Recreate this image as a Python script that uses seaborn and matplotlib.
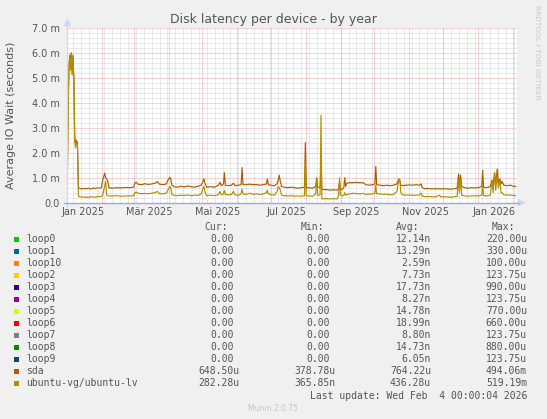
import numpy as np
import pandas as pd
import matplotlib
matplotlib.use("Agg")
import matplotlib.pyplot as plt
import seaborn as sns
from matplotlib.lines import Line2D
from matplotlib.patches import Polygon, Rectangle

W, H = 547, 419

# ---------------- data (days since 1 Jan 2025, values in milliseconds) -------------
day_offsets = [0, 0.8, 1.5, 2.2, 2.8, 3.5, 4.3, 5.0, 5.8, 6.6, 7.3, 8.0, 9.0, 9.9,
               11, 13, 15, 17, 19, 21, 23, 25, 27, 29, 30.2, 31.5, 33.2, 34.1, 35.0, 36.0, 37.0,
               40, 44, 48, 52, 56, 59, 60, 61, 63, 66, 69, 72, 75, 78, 80, 82, 85,
               88, 89.5, 91, 92, 93, 95, 98, 101, 104, 107, 110, 113, 116, 119,
               120.5, 121.5, 122.5, 124, 127, 131, 134.5, 135.7, 136.8, 138.8, 139.6, 140.5,
               143, 146, 147.6, 149, 152, 154.5, 155.3, 156.2, 159, 162, 165, 168, 171, 174,
               177, 177.8, 178.8, 181, 184, 186.5, 187.5, 188.4, 189.3, 190.5, 193, 196, 199,
               202, 205, 208, 210.8, 211.6, 212.4, 215, 218, 220.8, 221.7, 222.6, 224.7, 225.5,
               226.3, 228, 231, 234, 237, 240, 241.2, 242, 242.8, 244, 245.8, 246.6, 247.4,
               248.5, 251, 254, 257, 260, 263, 265.5, 268, 271, 273.4, 274.2, 275.0, 278, 281,
               284, 287, 290, 293, 294.5, 295.5, 296.5, 298, 301, 304, 307, 310, 313, 314.5,
               315.5, 318, 321, 324, 327, 330, 331, 332, 335, 338, 341, 344, 346.5, 347.8,
               348.6, 349.6, 350.6, 353, 356, 359, 362, 365, 368.4, 369.2, 370.0, 372, 374,
               376, 377.5, 378.5, 379.8, 380.8, 382.2, 383.2, 384.5, 385.5, 386.5, 388, 391,
               394, 396, 398.5]

sda_ms = [0.8, 4.0, 5.5, 5.9, 5.5, 6.0, 5.2, 5.9, 5.0, 2.6, 2.3, 2.5, 2.4, 0.6,
          0.58, 0.55, 0.57, 0.56, 0.58, 0.55, 0.59, 0.57, 0.6, 0.58, 0.6, 0.9, 1.18, 1.0, 0.95, 0.85, 0.6,
          0.58, 0.6, 0.59, 0.61, 0.6, 0.62, 0.78, 0.82, 0.74, 0.72, 0.76, 0.73, 0.75, 0.78, 0.84, 0.74, 0.72,
          0.75, 0.9, 1.02, 0.95, 0.7, 0.64, 0.62, 0.66, 0.63, 0.67, 0.64, 0.62, 0.66, 0.7,
          0.85, 0.95, 0.75, 0.62, 0.64, 0.62, 0.7, 0.82, 0.68, 0.75, 1.2, 0.7,
          0.68, 0.7, 0.78, 0.68, 0.7, 0.72, 1.4, 0.73, 0.72, 0.74, 0.72, 0.73, 0.7, 0.72,
          0.75, 0.95, 0.72, 0.7, 0.68, 0.75, 0.9, 1.1, 0.85, 0.65, 0.62, 0.6, 0.62,
          0.6, 0.58, 0.6, 0.62, 2.4, 0.6, 0.6, 0.58, 0.65, 1.0, 0.62, 0.6, 1.5,
          0.52, 0.53, 0.52, 0.5, 0.52, 0.5, 0.55, 0.85, 0.55, 0.52, 0.6, 1.0, 0.65,
          0.78, 0.8, 0.8, 0.81, 0.8, 0.8, 0.72, 0.7, 0.72, 0.75, 1.45, 0.72, 0.7, 0.68,
          0.7, 0.68, 0.7, 0.75, 0.95, 0.9, 0.7, 0.68, 0.7, 0.71, 0.7, 0.72, 0.7, 0.75,
          0.6, 0.56, 0.57, 0.55, 0.56, 0.55, 0.56, 0.55, 0.56, 0.55, 0.54, 0.56, 0.58, 1.15,
          0.7, 1.1, 0.65, 0.6, 0.58, 0.6, 0.59, 0.6, 0.65, 1.3, 0.62, 0.6, 0.62,
          0.65, 0.9, 0.7, 1.2, 0.75, 1.35, 0.8, 0.95, 0.75, 0.85, 0.7, 0.68,
          0.7, 0.66, 0.65]

lv_ms = [0.75, 3.9, 5.4, 5.8, 5.3, 5.95, 5.1, 5.85, 4.9, 2.5, 2.2, 2.4, 2.3, 0.26,
         0.24, 0.22, 0.23, 0.21, 0.22, 0.24, 0.23, 0.22, 0.25, 0.24, 0.25, 0.3, 0.65, 0.85, 0.3, 0.28, 0.27,
         0.27, 0.28, 0.26, 0.27, 0.27, 0.28, 0.4, 0.42, 0.38, 0.36, 0.37, 0.36, 0.38, 0.4, 0.45, 0.36, 0.36,
         0.38, 0.5, 0.65, 0.6, 0.32, 0.3, 0.28, 0.3, 0.29, 0.31, 0.28, 0.3, 0.29, 0.35,
         0.55, 0.65, 0.4, 0.28, 0.3, 0.28, 0.33, 0.45, 0.32, 0.35, 0.5, 0.33,
         0.32, 0.33, 0.45, 0.32, 0.3, 0.35, 0.55, 0.35, 0.33, 0.38, 0.33, 0.36, 0.33, 0.35,
         0.4, 0.5, 0.35, 0.33, 0.3, 0.45, 0.65, 0.6, 0.5, 0.3, 0.28, 0.27, 0.28,
         0.26, 0.27, 0.26, 0.28, 1.6, 0.28, 0.27, 0.26, 0.35, 0.95, 0.3, 0.3, 3.5,
         0.15, 0.16, 0.16, 0.15, 0.16, 0.15, 0.3, 1.0, 0.3, 0.28, 0.3, 0.4, 0.3,
         0.33, 0.35, 0.38, 0.36, 0.35, 0.37, 0.33, 0.34, 0.35, 0.38, 0.7, 0.36, 0.35, 0.33,
         0.34, 0.32, 0.33, 0.45, 0.9, 0.95, 0.4, 0.32, 0.3, 0.31, 0.29, 0.3, 0.31, 0.38,
         0.26, 0.24, 0.25, 0.24, 0.23, 0.28, 0.3, 0.23, 0.24, 0.23, 0.22, 0.24, 0.25, 0.9,
         0.4, 0.95, 0.3, 0.27, 0.26, 0.27, 0.28, 0.27, 0.3, 0.7, 0.28, 0.27, 0.28,
         0.3, 0.9, 0.4, 1.2, 0.5, 1.1, 0.6, 0.9, 0.4, 0.4, 0.32, 0.3,
         0.31, 0.29, 0.28]

legend_names = ["loop0", "loop1", "loop10", "loop2", "loop3", "loop4", "loop5", "loop6",
                "loop7", "loop8", "loop9", "sda", "ubuntu-vg/ubuntu-lv"]
legend_colors = ["#00CC00", "#0066B3", "#FF8000", "#FFCC00", "#330099", "#990099", "#CCFF00",
                 "#FF0000", "#808080", "#008F00", "#00487D", "#B35A00", "#B38F00"]
cur_vals = ["0.00"] * 11 + ["648.50u", "282.28u"]
min_vals = ["0.00"] * 11 + ["378.78u", "365.85n"]
avg_vals = ["12.14n", "13.29n", "2.59n", "7.73n", "17.73n", "8.27n", "14.78n", "18.99n",
            "8.80n", "14.73n", "6.05n", "764.22u", "436.28u"]
max_vals = ["220.00u", "330.00u", "100.00u", "123.75u", "990.00u", "123.75u", "770.00u",
            "660.00u", "123.75u", "880.00u", "123.75u", "494.06m", "519.19m"]
col_headers = ["Cur:", "Min:", "Avg:", "Max:"]

y_tick_values = [0, 1, 2, 3, 4, 5, 6, 7]
y_tick_labels = ["0.0", "1.0 m", "2.0 m", "3.0 m", "4.0 m", "5.0 m", "6.0 m", "7.0 m"]
x_tick_labels = ["Jan 2025", "Mär 2025", "Mai 2025", "Jul 2025", "Sep 2025", "Nov 2025", "Jan 2026"]

title = "Disk latency per device - by year"
y_label = "Average IO Wait (seconds)"
last_update = "Last update: Wed Feb  4 00:00:04 2026"

# ---------------- figure ----------------
TXT = "#555555"
plt.rcParams["font.family"] = ["DejaVu Sans"]
fig = plt.figure(figsize=(W / 100, H / 100), dpi=100, facecolor="#F0F0F0")


def fx(x):
    return x / W


def fy(y):
    return 1 - y / H


X0, X1, Y0, Y1 = 67.3, 517.3, 202.7, 27.7
ax = fig.add_axes([fx(X0), fy(Y0), (X1 - X0) / W, (Y0 - Y1) / H])
ax.set_facecolor("white")

start = pd.Timestamp("2025-01-01")
dates = start + pd.to_timedelta(day_offsets, unit="D")
df = pd.DataFrame({
    "date": list(dates) * 2,
    "latency": sda_ms + lv_ms,
    "device": ["sda"] * len(sda_ms) + ["ubuntu-vg/ubuntu-lv"] * len(lv_ms),
})
sns.lineplot(data=df, x="date", y="latency", hue="device",
             hue_order=["sda", "ubuntu-vg/ubuntu-lv"],
             palette={"sda": "#B35A00", "ubuntu-vg/ubuntu-lv": "#B38F00"},
             estimator=None, legend=False, linewidth=0.85, ax=ax, zorder=3)

end = start + pd.Timedelta(days=400)
ax.set_xlim(start, end)
ax.set_ylim(0, 7)

# grid (rrdtool style dotted)
minor_c, major_c = "#d6d6d6", "#f4a4a4"
for d in pd.date_range(start, end, freq="W-MON"):
    ax.axvline(d, color=minor_c, lw=0.72, dashes=(1, 1), zorder=1)
for v in np.arange(1, 35) * 0.2:
    if abs(v - round(v)) > 1e-6:
        ax.axhline(v, color=minor_c, lw=0.72, dashes=(1, 1), zorder=1)
for d in pd.date_range(start, end, freq="MS"):
    ax.axvline(d, color=major_c, lw=0.72, dashes=(1, 1), zorder=1.5)
for v in y_tick_values[1:]:
    ax.axhline(v, color=major_c, lw=0.72, dashes=(1, 1), zorder=1.5)

for s in ax.spines.values():
    s.set_visible(False)

ax.set_yticks(y_tick_values)
ax.set_yticklabels(y_tick_labels)
label_pos = pd.date_range(start, periods=7, freq="2MS") + pd.Timedelta(days=14)
ax.set_xticks(label_pos)
ax.set_xticklabels(x_tick_labels)
ax.tick_params(axis="both", length=0, labelsize=7, colors=TXT)
ax.tick_params(axis="y", pad=5.3)
ax.tick_params(axis="x", pad=3.0)
ax.set_xlabel("")
ax.set_ylabel("")

# axes lines and arrows
AX_C = "#CFD6F8"
fig.add_artist(Line2D([fx(X0), fx(X0)], [fy(Y0 + 3), fy(Y1 - 3)], color=AX_C, lw=0.9))
fig.add_artist(Line2D([fx(X0 - 3), fx(X1 + 2)], [fy(Y0), fy(Y0)], color="#a2abd8", lw=1.0))
fig.add_artist(Polygon([[fx(X0 - 3), fy(Y1 - 2)], [fx(X0 + 3), fy(Y1 - 2)], [fx(X0), fy(Y1 - 8)]],
                       closed=True, color=AX_C, transform=fig.transFigure))
fig.add_artist(Polygon([[fx(X1 + 1), fy(Y0 - 3)], [fx(X1 + 1), fy(Y0 + 3)], [fx(X1 + 7), fy(Y0)]],
                       closed=True, color=AX_C, transform=fig.transFigure))

# title, axis label, watermark
fig.text(fx(273.5), fy(20), title, ha="center", va="center", fontsize=9, color=TXT)
fig.text(fx(11), fy(115), y_label, ha="center", va="center", rotation=90, fontsize=8, color=TXT)
fig.text(fx(537), fy(52), "RRDTOOL / TOBI OETIKER", ha="center", va="center", rotation=270,
         fontsize=5.3, color="#c8c8c8")

# legend
MONO = "DejaVu Sans Mono"
CH = 5.85
col_ends = [239.7, 335.5, 431.0, 527.0]
for k in range(4):
    fig.text(fx(col_ends[k] - 2 * CH), fy(227.3), col_headers[k], ha="right", va="center",
             fontsize=7, family=MONO, color=TXT)

for i, name in enumerate(legend_names):
    y = 239.3 + 12 * i
    fig.add_artist(Rectangle((fx(13.8), fy(y + 3)), 5.5 / W, 5.5 / H, transform=fig.transFigure,
                             facecolor=legend_colors[i], edgecolor="none"))
    fig.text(fx(25.9), fy(y), name, ha="left", va="center", fontsize=7, family=MONO, color=TXT)
    for k, vals in enumerate([cur_vals, min_vals, avg_vals, max_vals]):
        s = vals[i]
        xe = col_ends[k] - (CH if s[-1].isdigit() else 0)
        fig.text(fx(xe), fy(y), s, ha="right", va="center", fontsize=7, family=MONO, color=TXT)

fig.text(fx(527), fy(395.7), last_update, ha="right", va="center", fontsize=7, family=MONO, color=TXT)
fig.text(fx(273), fy(408.3), "Munin 2.0.75", ha="center", va="center", fontsize=5.5, color="#c4c4c4")

fig.savefig("out.png", dpi=100, facecolor=fig.get_facecolor())
